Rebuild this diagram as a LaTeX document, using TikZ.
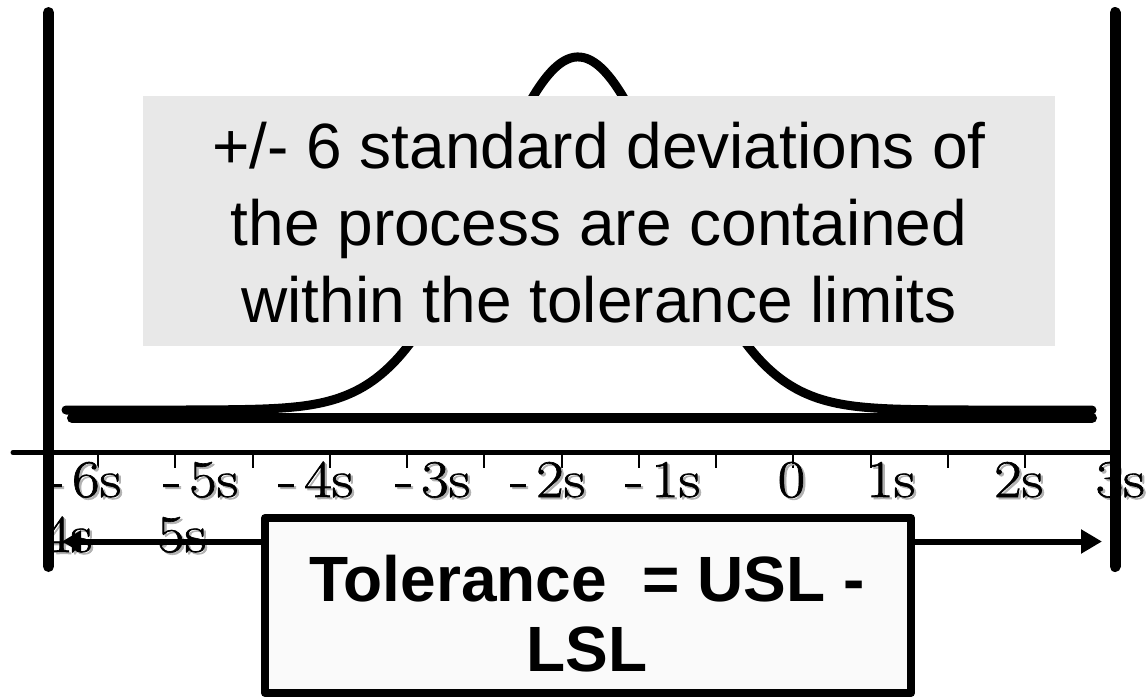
\documentclass[tikz,border=0pt]{standalone}
\usepackage{fontspec}
\newfontfamily\arialfont{Liberation Sans}
\newfontfamily\sigfont{Latin Modern Roman}[FakeBold=1.2]
\usetikzlibrary{arrows.meta}
\definecolor{notegray}{HTML}{E8E8E8}
\definecolor{boxwhite}{HTML}{FAFAFA}
% serif label with a soft grey drop shadow, stretched a little sideways
\newcommand\shadowed[1]{\scalebox{1.13}[1]{\leavevmode\rlap{\kern2pt\raisebox{-2pt}{\textcolor{black!30}{#1}}}#1}}
\tikzset{
  limitline/.style={line width=11pt, line cap=round},
  axisline/.style={line width=5pt, line cap=round},
  tickmark/.style={line width=2pt},
  bellcurve/.style={line width=9pt, line cap=round, line join=round},
  floorline/.style={line width=10pt, line cap=round},
  siglab/.style={inner sep=0pt, anchor=base west, font=\sigfont\fontsize{53}{60}\selectfont},
  notebox/.style={fill=notegray, inner sep=0pt, minimum width=912pt, minimum height=250pt},
  notetext/.style={inner sep=0pt, anchor=base, font=\arialfont\fontsize{64}{77}\selectfont},
  tolbox/.style={draw, line width=8pt, line join=round, fill=boxwhite, inner sep=0pt,
                 minimum width=646pt, minimum height=175pt},
  toltext/.style={inner sep=0pt, anchor=base, font=\arialfont\bfseries\fontsize{64}{70}\selectfont},
  span/.style={line width=6pt, {Triangle[length=19pt,width=21pt]}-{Triangle[length=21pt,width=23pt]}}
}
\begin{document}
\begin{tikzpicture}[x=1pt,y=-1pt]
\useasboundingbox (0,0) rectangle (1146,699);

% normal curve and the floor it stands on
\draw[bellcurve] plot[domain=66:1092, samples=300]
  (\x,{410-353*exp(-0.5*((\x-578)/92)^2)});
\draw[floorline] (72,418) -- (1092,418);

% explanatory note over the curve
\node[notebox] (note) at (599,221) {};
\node[notetext] (n1) at (599,168) {+/- 6 standard deviations of};
\node[notetext] (n2) at (599,245) {the process are contained};
\node[notetext] (n3) at (599,322) {within the tolerance limits};

% horizontal axis with tick marks
\coordinate (axL) at (13,452.5);
\coordinate (axR) at (1112,452.5);
\draw[axisline] (axL) -- (axR);
\foreach \i in {0,...,12}
  \draw[tickmark] ({98+77.25*\i},455) -- ({98+77.25*\i},468);

% sigma labels
\node[siglab] (s1)  at (46,497)    {\shadowed{-\kern7pt 6s}};
\node[siglab] (s2)  at (163,497)   {\shadowed{-\kern7pt 5s}};
\node[siglab] (s3)  at (278,497)   {\shadowed{-\kern7pt 4s}};
\node[siglab] (s4)  at (395,497)   {\shadowed{-\kern7pt 3s}};
\node[siglab] (s5)  at (510,497)   {\shadowed{-\kern7pt 2s}};
\node[siglab] (s6)  at (625,497)   {\shadowed{-\kern7pt 1s}};
\node[siglab] (s7)  at (777.5,497) {\shadowed{0}};
\node[siglab] (s8)  at (866,497)   {\shadowed{1s}};
\node[siglab] (s9)  at (994,497)   {\shadowed{2s}};
\node[siglab] (s10) at (1095.5,497){\shadowed{3s}};
\node[siglab] (s11) at (43,552)    {\shadowed{4s}};
\node[siglab] (s12) at (157,552)   {\shadowed{5s}};

% tolerance span between the limits
\coordinate (aL) at (62,541.5);
\coordinate (aR) at (1102,541.5);
\draw[span] (aL) -- (aR);

\node[tolbox] (tol) at (588,605.5) {};
\node[toltext] (t1) at (587,601) {Tolerance~ = USL -};
\node[toltext] (t2) at (587,671) {LSL};

% lower and upper specification limits
\coordinate (LT) at (48.5,12.5);
\coordinate (LB) at (48.5,566.5);
\coordinate (RT) at (1115,12.5);
\coordinate (RB) at (1115,566.5);
\draw[limitline] (LT) -- (LB);
\draw[limitline] (RT) -- (RB);
\end{tikzpicture}
\end{document}
